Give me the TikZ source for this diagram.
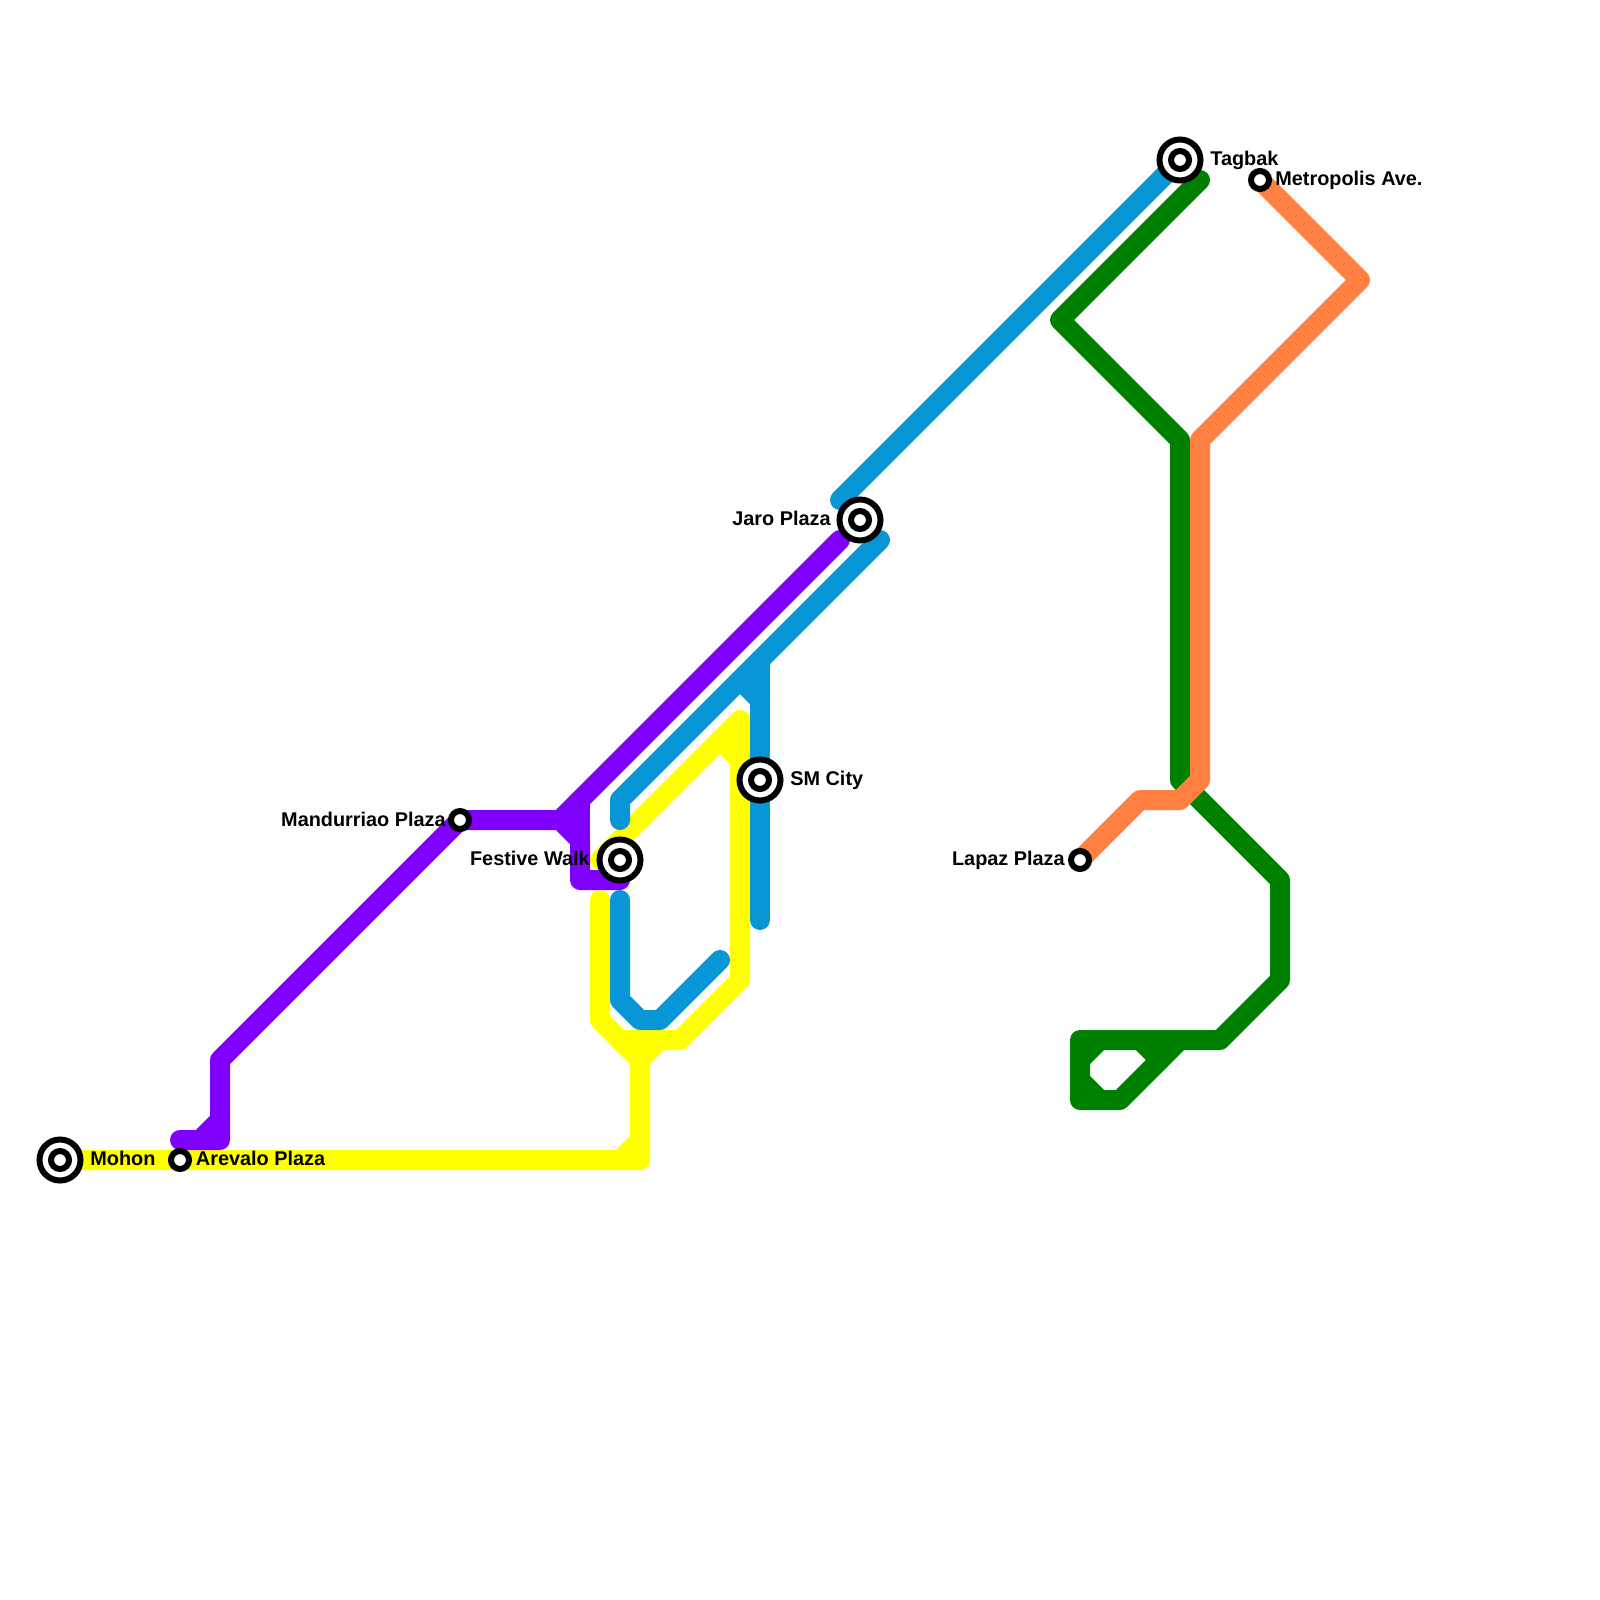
\documentclass[tikz,border=0pt]{standalone}
\usepackage{fontspec}
\setmainfont{Liberation Sans}
\usepackage{xcolor}
\definecolor{lineyellow}{HTML}{FFFF00}
\definecolor{lineblue}{HTML}{0896D7}
\definecolor{linepurple}{HTML}{8000FF}
\definecolor{linegreen}{HTML}{008000}
\definecolor{lineorange}{HTML}{FF8040}
\tikzset{
  route/.style={line width=0.4cm,line cap=round,line join=round},
  stop/.style={circle,draw=black,fill=white,line width=0.12cm,minimum size=0.36cm,inner sep=0pt},
  hubring/.style={circle,draw=black,fill=white,line width=0.12cm,minimum size=0.82cm,inner sep=0pt},
  stnlabel/.style={inner sep=0pt,font=\fontsize{11.3pt}{13pt}\selectfont\bfseries}
}

\begin{document}
\begin{tikzpicture}[x=0.4cm,y=-0.4cm]
\useasboundingbox (0,0) rectangle (80,80);
% station positions
\coordinate (mohon) at (3,58);
\coordinate (arevalo) at (9,58);
\coordinate (mandurriao) at (23,41);
\coordinate (festive) at (31,43);
\coordinate (smcity) at (38,39);
\coordinate (jaro) at (43,26);
\coordinate (tagbak) at (59,8);
\coordinate (metropolis) at (63,9);
\coordinate (lapaz) at (54,43);
% yellow
\draw[route,lineyellow] (mohon)--(32,58)--(32,53)--(30,51)--(30,45);
\draw[route,lineyellow] (31,58)--(32,57);
\draw[route,lineyellow] (32,53)--(33,52);
\draw[route,lineyellow] (31,52)--(34,52)--(37,49)--(37,38)--(36,37)--(30,43);
\draw[route,lineyellow] (37,36)--(36,37);
\draw[route,lineyellow] (37,38)--(37,36);
% blue
\draw[route,lineblue] (31,41)--(31,40)--(37,34)--(44,27);
\draw[route,lineblue] (38,33)--(38,46);
\draw[route,lineblue] (37,34)--(38,35);
\draw[route,lineblue] (31,45)--(31,50)--(32,51)--(33,51)--(36,48);
\draw[route,lineblue] (42,25)--(tagbak);
% purple
\draw[route,linepurple] (9,57)--(11,57)--(11,53)--(mandurriao)--(28,41)--(29,42)--(29,44)--(31,44);
\draw[route,linepurple] (10,57)--(11,56);
\draw[route,linepurple] (28,41)--(29,40)--(42,27);
\draw[route,linepurple] (29,40)--(29,42);
% green
\draw[route,linegreen] (60,9)--(53,16)--(59,22)--(59,39)--(64,44)--(64,49)--(61,52)--(54,52)--(54,55)--(56,55)--(59,52);
\draw[route,linegreen] (54,53)--(55,52);
\draw[route,linegreen] (54,54)--(55,55);
\draw[route,linegreen] (57,52)--(58,53);
% orange
\draw[route,lineorange] (metropolis)--(68,14)--(60,22)--(60,39)--(59,40)--(57,40)--(lapaz);
% stations
\node[hubring] (mohonring) at (mohon) {};
\node[stop] (mohonstn) at (mohon) {};
\node[stop] (arevalostn) at (arevalo) {};
\node[stop] (mandurriaostn) at (mandurriao) {};
\node[hubring] (festivering) at (festive) {};
\node[stop] (festivestn) at (festive) {};
\node[hubring] (smcityring) at (smcity) {};
\node[stop] (smcitystn) at (smcity) {};
\node[hubring] (jaroring) at (jaro) {};
\node[stop] (jarostn) at (jaro) {};
\node[hubring] (tagbakring) at (tagbak) {};
\node[stop] (tagbakstn) at (tagbak) {};
\node[stop] (metropolisstn) at (metropolis) {};
\node[stop] (lapazstn) at (lapaz) {};
% labels
\node[stnlabel,anchor=base west] (mohonlbl) at (4.5,58.25) {Mohon};
\node[stnlabel,anchor=base west] (arevalolbl) at (9.78,58.25) {Arevalo Plaza};
\node[stnlabel,anchor=base east] (mandurriaolbl) at (22.3,41.3) {Mandurriao Plaza};
\node[stnlabel,anchor=base east] (festivelbl) at (29.5,43.25) {Festive Walk};
\node[stnlabel,anchor=base west] (smcitylbl) at (39.5,39.25) {SM City};
\node[stnlabel,anchor=base east] (jarolbl) at (41.55,26.25) {Jaro Plaza};
\node[stnlabel,anchor=base west] (tagbaklbl) at (60.5,8.3) {Tagbak};
\node[stnlabel,anchor=base west] (metropolislbl) at (63.75,9.25) {Metropolis Ave.};
\node[stnlabel,anchor=base east] (lapazlbl) at (53.25,43.25) {Lapaz Plaza};
\end{tikzpicture}
\end{document}
